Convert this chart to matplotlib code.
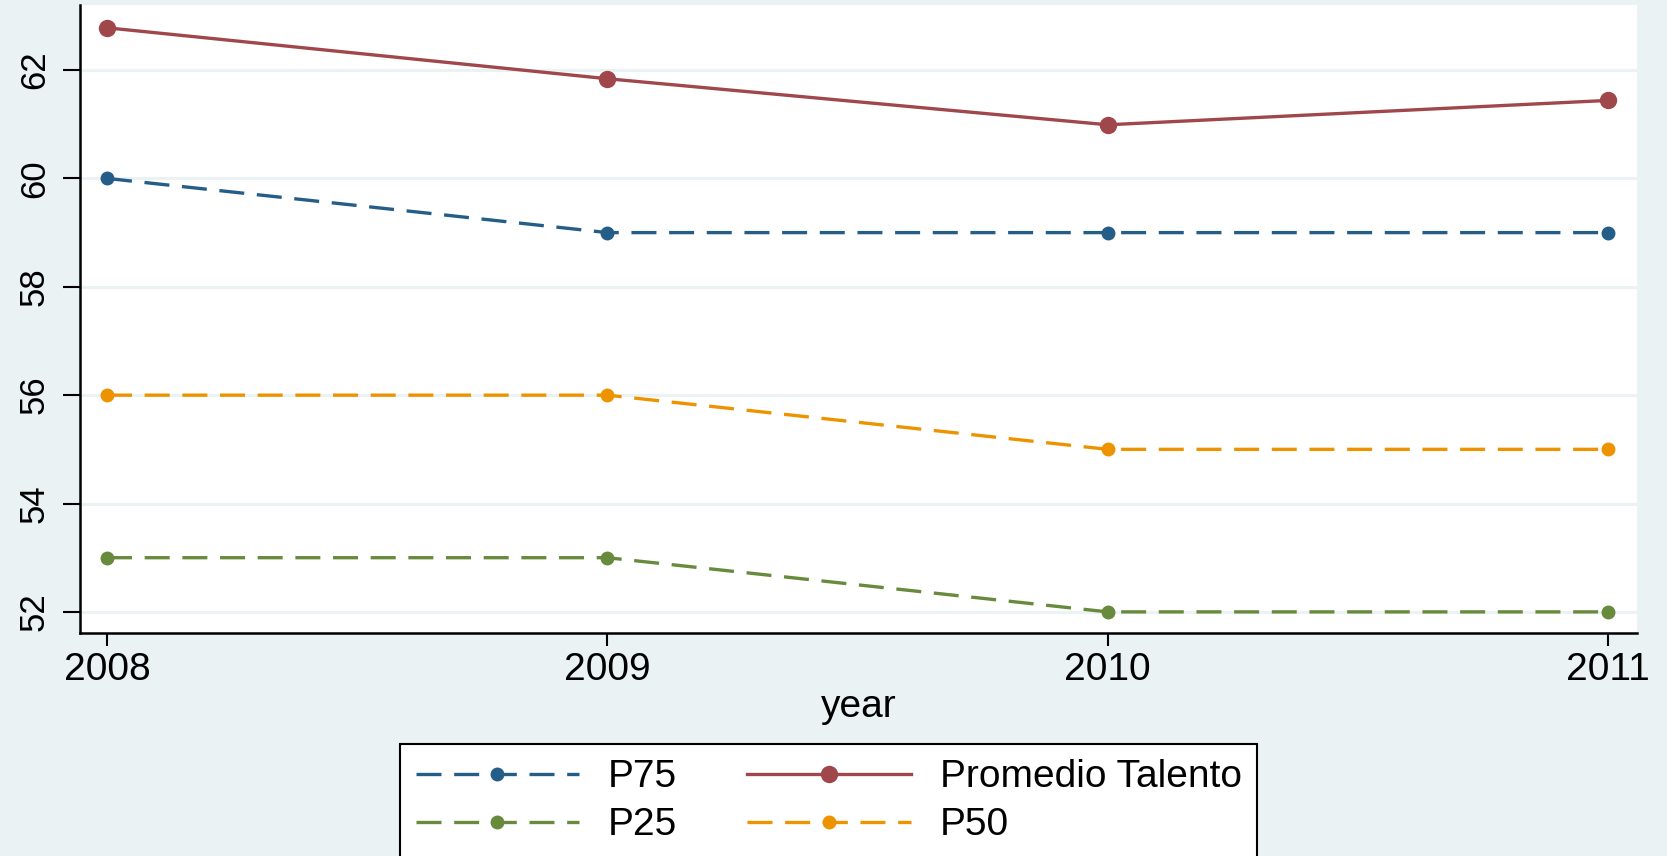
import matplotlib
matplotlib.use('Agg')
import matplotlib.pyplot as plt

plt.rcParams['font.family'] = ['Liberation Sans', 'DejaVu Sans']

years = [2008, 2009, 2010, 2011]
p75 = [60, 59, 59, 59]
promedio = [62.78, 61.84, 60.99, 61.44]
p25 = [53, 53, 52, 52]
p50 = [56, 56, 55, 55]
yticks = [52, 54, 56, 58, 60, 62]

bg = '#eaf2f3'
navy = '#245d87'
maroon = '#a0474b'
green = '#688a3c'
orange = '#ee9300'

fig = plt.figure(figsize=(16.67, 8.56), dpi=100, facecolor=bg)
ax = fig.add_axes([0.048, 0.2605, 0.934, 0.7336])
ax.set_facecolor('white')

# light horizontal grid in the background colour
for y in yticks:
    ax.axhline(y, color=bg, lw=2.2, zorder=0)

dash = (7.5, 3.8)
l75, = ax.plot(years, p75, color=navy, lw=2.4, dashes=dash, marker='o', ms=9, label='P75')
lprom, = ax.plot(years, promedio, color=maroon, lw=2.4, marker='o', ms=11.5, label='Promedio Talento')
l25, = ax.plot(years, p25, color=green, lw=2.4, dashes=dash, marker='o', ms=9, label='P25')
l50, = ax.plot(years, p50, color=orange, lw=2.4, dashes=dash, marker='o', ms=9, label='P50')

ax.set_xlim(2007.946, 2011.058)
ax.set_ylim(51.61, 63.2)
ax.set_xticks(years)
ax.set_yticks(yticks)
ax.set_yticklabels([str(v) for v in yticks], rotation=90, va='center')
ax.tick_params(axis='both', width=1.5, color='black', direction='out')
ax.tick_params(axis='y', labelsize=25, length=12, pad=9)
ax.tick_params(axis='x', labelsize=28, length=9.5, pad=4)

for side in ['top', 'right']:
    ax.spines[side].set_visible(False)
for side in ['left', 'bottom']:
    ax.spines[side].set_linewidth(1.8)

ax.set_xlabel('year', fontsize=28, labelpad=1)

leg = fig.legend(handles=[l75, l25, lprom, l50], ncol=2, loc='upper left',
                 bbox_to_anchor=(0.240, 0.131), fontsize=28, frameon=True,
                 fancybox=False, framealpha=1, edgecolor='black',
                 handlelength=4.2, handletextpad=0.75, columnspacing=1.8,
                 borderpad=0.4, labelspacing=0.31, borderaxespad=0)
leg.get_frame().set_linewidth(1.5)

fig.savefig('out.png', dpi=100, facecolor=bg)
